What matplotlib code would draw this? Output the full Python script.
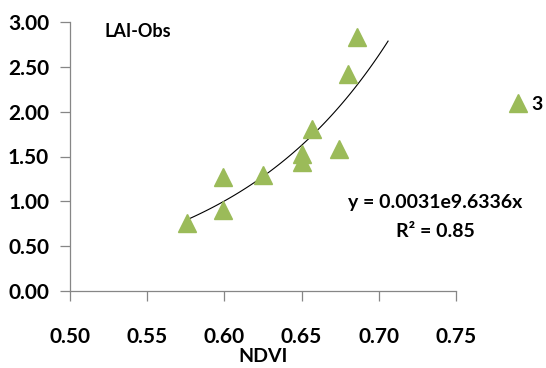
import numpy as np
import matplotlib
matplotlib.use('Agg')
from matplotlib import pyplot as plt

# data
ndvi = [0.576, 0.599, 0.599, 0.625, 0.650, 0.650, 0.657, 0.674, 0.680, 0.686]
lai_obs = [0.76, 0.90, 1.27, 1.29, 1.44, 1.53, 1.81, 1.58, 2.42, 2.83]
fit_a = 0.0031
fit_b = 9.6336
fit_range = [0.576, 0.706]
x_ticks = [0.50, 0.55, 0.60, 0.65, 0.70, 0.75]
y_ticks = [0.00, 0.50, 1.00, 1.50, 2.00, 2.50, 3.00]

plt.rcParams['font.family'] = ['Lato', 'DejaVu Sans']
green = '#9BBB59'
grey = '#868686'

fig = plt.figure(figsize=(5.46, 3.68), dpi=100)
ax = fig.add_axes([70/546, 1-291/368, 386/546, 269/368])

ax.plot(ndvi, lai_obs, linestyle='none', marker='^', ms=13.5, color=green,
        markeredgecolor=green, label='3', zorder=3)

xf = np.linspace(fit_range[0], fit_range[1], 100)
ax.plot(xf, fit_a * np.exp(fit_b * xf), color='black', lw=0.8, zorder=2)

ax.set_xlim(0.50, 0.75)
ax.set_ylim(0.0, 3.0)
ax.set_xticks(x_ticks)
ax.set_yticks(y_ticks)
ax.set_xticklabels([f'{v:.2f}' for v in x_ticks])
ax.set_yticklabels([f'{v:.2f}' for v in y_ticks])
for s in ['top', 'right']:
    ax.spines[s].set_visible(False)
for s in ['left', 'bottom']:
    ax.spines[s].set_color(grey)
    ax.spines[s].set_linewidth(0.9)
ax.tick_params(axis='both', colors=grey, length=7, width=0.9, direction='out',
               labelcolor='black', labelsize=15)
ax.tick_params(axis='x', pad=19)
ax.tick_params(axis='y', pad=8)
for lab in ax.get_xticklabels() + ax.get_yticklabels():
    lab.set_fontweight('bold')

ax.set_xlabel('NDVI', fontsize=14, fontweight='bold', labelpad=1)

ax.text(0.09, 0.965, 'LAI-Obs', transform=ax.transAxes, fontsize=13,
        fontweight='bold', va='center', ha='left')
ax.text(0.7364, 0.99, 'y = 0.0031e9.6336x', fontsize=14,
        fontweight='bold', ha='center', va='center', clip_on=False)
ax.text(0.7364, 0.66, 'R² = 0.85', fontsize=14, fontweight='bold',
        ha='center', va='center', clip_on=False)

ax.legend(loc='center left', bbox_to_anchor=(1.12, 0.695), frameon=False,
          handlelength=0.8, handletextpad=0.3,
          prop={'weight': 'bold', 'size': 14}, borderaxespad=0)

fig.savefig('out.png', dpi=100)
